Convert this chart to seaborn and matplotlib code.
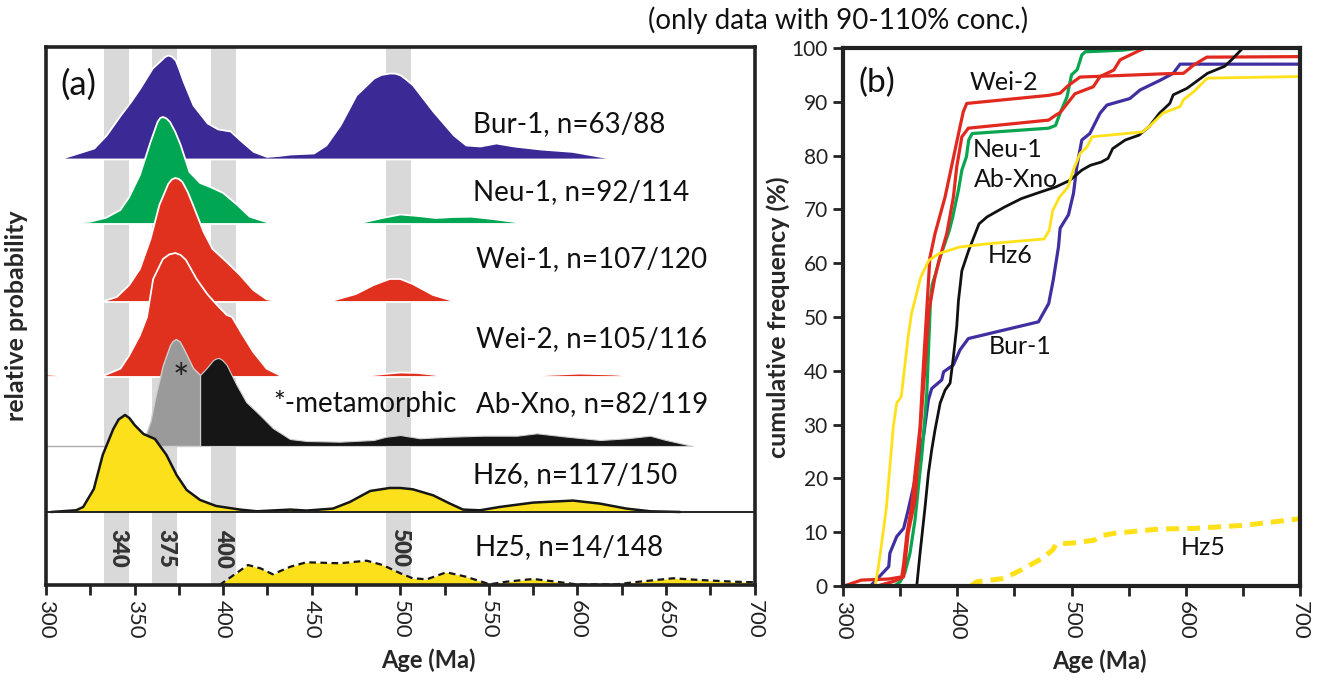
import numpy as np
import pandas as pd
import matplotlib.pyplot as plt
import seaborn as sns

sns.set_theme(style="white")
plt.rcParams['font.family'] = ['Lato', 'DejaVu Sans']

# ---------------- panel (a): probability density curves (age Ma, relative height) -------------
nan = np.nan
bur1_age = [307, 315, 327, 334, 342, 348, 353, 360, 364, 367, 369, 371, 373, 375, 377.5, 383, 391, 397,
            404, 409.5, 417, 424.5, 431, 438, 451, 458, 466, 475, 485, 489, 494, 497, 500, 503, 507,
            518.5, 530, 537, 545, 554, 564, 579, 597, 613, 623]
bur1_h = [0, 4.3, 11, 24, 44, 58, 71, 91, 97.5, 102.6, 104, 102.5, 99, 90, 77.6, 54, 36, 30,
          28, 19, 7.6, 2.6, 3.5, 5, 6, 14, 34, 64, 81, 84.5, 86, 85.8, 84, 80, 74,
          47.6, 24, 14, 13, 16, 13, 10, 7.6, 2.6, 0]

neu1_age = [304, 325, 334, 342, 347, 353, 359, 363, 364.5, 366, 368, 370, 373, 376, 381, 387, 394, 400,
            408, 415, 428, nan, 469, 480, 490, 500, 510, 520, 530, 540, 552, 566, 578]
neu1_h = [0, 2.3, 6.3, 14, 27, 49, 82, 102, 106, 107, 105.5, 102, 92, 79, 52, 41, 36, 31,
          19, 7.3, 0, nan, 0, 2, 6, 9.5, 8, 6, 7, 7.3, 5, 1.7, 0]

wei1_age = [331, 340, 347, 353, 359, 364, 369, 371, 373, 375, 377, 380, 383, 389, 394, 402, 409.5, 417,
            424.5, 433, nan, 459, 475, 485, 494, 500, 507, 518.5, 528, 540, 560]
wei1_h = [0, 5, 17, 33, 63, 97, 118, 122.5, 124, 123, 120, 110, 97, 70, 53, 40, 27, 12,
          2.7, 0, nan, 0, 8, 17, 23, 23, 18, 7, 2, 0.5, 0]

wei2_age = [300, 310, 318, 330, 334, 342, 347, 353, 357, 360.5, 366, 369.5, 373, 376, 379, 385, 391, 396,
            402, 405, 411, 417, 424.5, 432, 440, nan, 468, 485, 500, 510, 520, 529, nan, 567, 580,
            601, 620, 641]
wei2_h = [2.5, 1.5, 0, 0, 2.4, 8.3, 21.7, 41.7, 60, 98, 118, 122.5, 124, 122, 117, 98, 83, 73,
          62, 60, 42, 25, 8.4, 1.7, 0, nan, 0, 2, 4.5, 4, 2, 0, nan, 0, 1.8,
          3.4, 2.5, 0]

abx_age = [352, 356, 359, 361.5, 366, 370, 371.5, 373.3, 375.5, 377.5, 383, 387, 390.7, 394.4, 396,
           397.6, 399.5, 402, 407.6, 413, 420.7, 428, 437.7, 447, 466, 485, 492, 500, 511, 528, 547,
           566, 577, 594, 613, 628, 641, 650, 665]
abx_h = [0, 10, 25, 48, 81, 101, 105, 107, 104.5, 98, 78, 71, 78, 86, 87.5,
         88, 86, 81, 61, 44, 31, 18, 7, 5, 4.3, 6, 9.3, 11, 7.7, 9.3, 10.3,
         10.3, 12.7, 9.3, 6, 7.7, 10.3, 6, 0]
abx_meta_max = 387  # ages below this are metamorphic (grey)

hz6_age = [303, 317, 321, 327, 332, 338, 341, 344.6, 347, 350, 355, 361.5, 368, 373.7, 379.4, 387, 396,
           409.5, 419, 428, 438, 447, 462, 471.5, 483, 494, 500, 507, 518.5, 528, 535.4, 545, 556,
           575, 597.5, 612.6, 627.6, 641, 658]
hz6_h = [0, 1.7, 5, 23, 57, 83, 92.5, 97, 94, 87, 78, 73, 57, 37, 22, 12, 6,
         2.4, 0.7, 1.5, 2.4, 1.4, 3.4, 10, 21, 24, 24, 22.7, 16.7, 8.4, 2.4, 1.7, 5,
         9.4, 11.4, 8.4, 3.4, 0.7, 0]

hz5_age = [398, 406, 414, 421, 428, 438, 447, 466, 481, 490, 500, 507, 515, 526, 537, 550.5, 560, 575,
           588, 599, 622, 635, 654, 669, 688, 700]
hz5_h = [0, 10, 20, 16.7, 10.7, 18.3, 22.7, 21.7, 24.3, 20, 11.7, 6.7, 5.7, 12.7, 8.3, 0.7, 3.3, 6,
         3.3, 0.7, 0.7, 3.3, 6.7, 5, 3.3, 2.7]

ridge_labels = ["Bur-1, n=63/88", "Neu-1, n=92/114", "Wei-1, n=107/120", "Wei-2, n=105/116",
                "Ab-Xno, n=82/119", "Hz6, n=117/150", "Hz5, n=14/148"]
band_ages = [333, 360, 393, 492]
band_names = ["340", "375", "400", "500"]

# ---------------- panel (b): cumulative frequency (age Ma, %) ----------------
cdf_bur1_age = [324, 340, 341, 347, 353, 357, 363, 366, 370.4, 374.7, 377.6, 386.4, 388, 396.6, 402.4,
                409.7, 471, 480, 484, 488.6, 490, 497.3, 501.7, 504.6, 509, 516, 525, 531, 551, 560,
                577.5, 589, 595, 700]
cdf_bur1_pct = [0, 3.6, 6.1, 9.2, 10.7, 14.1, 19.7, 23.4, 27.8, 34.6, 36.7, 38.3, 39.8, 41.1, 43.9,
                46, 49.1, 52.5, 56.9, 63.1, 66.5, 69, 73, 77.9, 82.9, 84.1, 87.9, 89.4, 90.6, 92.2,
                94, 95.3, 97, 97]

cdf_neu1_age = [345, 350, 354, 358.6, 363, 366, 369.4, 373.3, 376.5, 378, 381, 384, 389, 393, 396, 401,
                404, 408, 410, 413, 480, 486, 490, 496, 500, 505, 509, 512, 545, 560]
cdf_neu1_pct = [0, 0.8, 2.4, 6.1, 12.3, 18.5, 25.3, 35.8, 53, 56, 58, 60.5, 63.6, 66.1, 68.6, 73.6,
                77.3, 79.8, 82.9, 84.1, 85.1, 85.6, 87.9, 90.9, 95, 96, 98.7, 99.3, 99.6, 100]

cdf_wei1_age = [330, 345, 353, 357, 363, 367.4, 371.8, 375, 380.5, 385, 390.8, 396.6, 399.5, 404, 409.7,
                480, 486, 490, 503, 519, 525, 537, 542.5, 560, 565]
cdf_wei1_pct = [0, 0.9, 1.7, 9.8, 16, 28.4, 40.8, 51, 57.5, 61.2, 65.5, 72.3, 77.9, 83.5, 85.1,
                86.6, 87.5, 88, 91.5, 92.8, 94.7, 95.9, 97.8, 99.6, 100]

cdf_wei2_age = [301, 316, 340, 351.4, 353, 356, 360, 363, 367.4, 370.3, 373.2, 376, 380.5, 389.3, 393.7,
                398, 402.4, 405.3, 408.3, 480, 490, 497, 507.4, 580, 598, 606.6, 618.3, 700]
cdf_wei2_pct = [0, 1.1, 1.3, 1.7, 4, 9.8, 14.7, 20.9, 29.6, 40.8, 51, 61, 65.5, 72.3, 76.7,
                81, 85.4, 88.2, 89.7, 91.2, 91.6, 93, 94.6, 95.2, 95.3, 96.8, 98.3, 98.4]

cdf_abx_age = [364.5, 367.4, 371.8, 374.7, 377.6, 380.5, 385, 389.3, 393.7, 396.6, 399.5, 401, 404, 410,
               419, 426, 441, 456, 471, 486.5, 498.5, 509, 516.5, 526, 532, 536, 547, 559, 568, 577,
               586, 589, 601, 619, 634, 640, 650]
cdf_abx_pct = [0, 6.1, 14.7, 20.9, 25.3, 29, 34, 36.4, 37.7, 42.6, 48.2, 53, 58.6, 62.4,
               67.3, 68.6, 70.4, 72, 73.1, 74.2, 75.4, 77.3, 78.2, 78.8, 79.5, 81.3, 82.9, 83.8, 85.4, 87.9,
               89.7, 91.3, 92.5, 95.3, 96.6, 97.8, 100]

cdf_hz6_age = [328, 331, 335, 338, 341, 344, 347, 351, 354, 357, 360, 363, 368, 375, 384, 402, 426, 476,
               480.5, 483.5, 489.5, 497, 501.5, 507.5, 513.5, 518, 562, 568, 580, 595, 598, 607, 616,
               619, 700]
cdf_hz6_pct = [0, 3.6, 9.8, 14.7, 22.2, 29.6, 34, 35.2, 40.8, 46.4, 50.7, 53.2, 57.4, 60.5, 61.8, 63,
               63.6, 64.5, 66.1, 69.8, 72.3, 74.2, 77.3, 80.4, 81.6, 83.5, 84.4, 85.4, 87.9, 89.1, 90.4,
               91.9, 93.8, 94.4, 94.7]

cdf_hz5_age = [412, 417, 441, 456, 474, 483.5, 486.5, 501.5, 519.5, 527, 537.6, 577, 607, 652, 700]
cdf_hz5_pct = [0, 0.8, 1.4, 3, 5.1, 6.7, 7.8, 8, 8.5, 9.4, 9.8, 10.6, 10.7, 11.3, 12.5]

cdf_names = ["Bur-1", "Neu-1", "Wei-1", "Wei-2", "Ab-Xno", "Hz6", "Hz5"]

# ---------------- styling ----------------
purple, green, red = "#3b2a96", "#00a651", "#e0301e"
grey, black, yellow = "#9a9a9a", "#161616", "#fbe01b"
band_col = "#d9d9d9"

fig = plt.figure(figsize=(13.22, 6.81), dpi=100)
ax_a = fig.add_axes([0.0348, 0.141, 0.536, 0.790])
ax_b = fig.add_axes([0.6377, 0.1395, 0.3457, 0.790])

# ---- panel (a)
for lo, name in zip(band_ages, band_names):
    ax_a.axvspan(lo, lo + 14, color=band_col, lw=0, zorder=0)
    ax_a.text(lo + 7.5, 37, name, rotation=-90, ha="center", va="center", fontsize=16,
              fontweight="heavy", color="#333333", zorder=1)

bases = [426, 361, 283, 208, 139, 73, 0]
simple = [(bur1_age, bur1_h, purple), (neu1_age, neu1_h, green),
          (wei1_age, wei1_h, red), (wei2_age, wei2_h, red)]
z = 2
for (age, h, col), b in zip(simple, bases[:4]):
    age = np.array(age, float)
    top = b + np.array(h, float)
    ax_a.fill_between(age, b, top, facecolor=col, edgecolor="white", lw=1.3, zorder=z)
    z += 1

# Ab-Xno, grey metamorphic part + black rest
age = np.array(abx_age, float)
top = bases[4] + np.array(abx_h, float)
ax_a.plot([300, 352], [bases[4], bases[4]], color="#aaaaaa", lw=1, zorder=z)
ax_a.fill_between(age, bases[4], top, where=age <= abx_meta_max, facecolor=grey,
                  edgecolor="#cfcfcf", lw=1, zorder=z)
ax_a.fill_between(age, bases[4], top, where=age >= abx_meta_max, facecolor=black,
                  edgecolor="#d0d0d0", lw=0.8, zorder=z + 1)
z += 2

# Hz6
age = np.array(hz6_age, float)
top = bases[5] + np.array(hz6_h, float)
ax_a.fill_between(age, bases[5], top, facecolor=yellow, lw=0, zorder=z)
sns.lineplot(x=age, y=top, ax=ax_a, color=black, lw=1.8, sort=False, zorder=z + 1)
ax_a.axhline(bases[5], color="#222222", lw=1.4, zorder=z + 1)
z += 2

# Hz5
age = np.array(hz5_age, float)
top = np.array(hz5_h, float)
ax_a.fill_between(age, 0, top, facecolor=yellow, lw=0, zorder=z)
sns.lineplot(x=age, y=top, ax=ax_a, color=black, lw=1.6, sort=False, zorder=z + 1,
             linestyle=(0, (3, 2)))

label_x = [541, 541, 542.6, 542.6, 542.6, 541, 542]
label_y = [453, 385, 318, 238, 173, 102, 30]
for s, x, y in zip(ridge_labels, label_x, label_y):
    ax_a.text(x, y, s, fontsize=20, ha="left", va="baseline", color="#111111", zorder=20)
ax_a.text(428.6, 173, "*-metamorphic", fontsize=20, ha="left", va="baseline", color="#111111", zorder=20)
ax_a.text(376, 204, "*", fontsize=28, ha="center", va="center", color="#222222", zorder=20)
ax_a.text(308, 490, "(a)", fontsize=25, ha="left", va="baseline", color="#111111", zorder=20)

ax_a.set_xlim(300, 700)
ax_a.set_ylim(0, 538)
ticks_a = np.arange(300, 701, 25)
ax_a.set_xticks(ticks_a)
ax_a.set_xticklabels([str(t) if t % 50 == 0 else "" for t in ticks_a], rotation=-90)
ax_a.set_yticks([])
ax_a.tick_params(axis="x", direction="out", length=7, width=2, labelsize=16, pad=4,
                 bottom=True, color="#222222", labelcolor="#222222")
ax_a.set_xlabel("Age (Ma)", fontsize=17, fontweight="bold")
ax_a.xaxis.set_label_coords(0.54, -0.118)
ax_a.set_ylabel("relative probability", fontsize=18, fontweight="bold")
ax_a.yaxis.set_label_coords(-0.026, 0.5)
for sp in ax_a.spines.values():
    sp.set_linewidth(2.6)
    sp.set_color("#222222")
    sp.set_zorder(30)

# ---- panel (b)
cdf_ages = [cdf_bur1_age, cdf_neu1_age, cdf_wei1_age, cdf_wei2_age, cdf_abx_age, cdf_hz6_age, cdf_hz5_age]
cdf_pcts = [cdf_bur1_pct, cdf_neu1_pct, cdf_wei1_pct, cdf_wei2_pct, cdf_abx_pct, cdf_hz6_pct, cdf_hz5_pct]
cdf_cols = ["#3f2fa0", "#0aa64f", "#e2291f", "#e2291f", "#111111", "#ffe11a", "#ffe11a"]
cdf_lw = [2.3, 2.3, 2.3, 2.3, 2.0, 2.0, 3.6]
rows = []
for name, a, p in zip(cdf_names, cdf_ages, cdf_pcts):
    rows.append(pd.DataFrame({"sample": name, "age": a, "pct": p}))
cdf = pd.concat(rows, ignore_index=True)

for name, col, lw in zip(cdf_names, cdf_cols, cdf_lw):
    d = cdf[cdf["sample"] == name]
    ls = (0, (2.6, 1.6)) if name == "Hz5" else "-"
    sns.lineplot(data=d, x="age", y="pct", ax=ax_b, color=col, lw=lw, sort=False,
                 estimator=None, linestyle=ls, zorder=3)

b_labels = ["Wei-2", "Neu-1", "Ab-Xno", "Hz6", "Bur-1", "Hz5"]
b_lx = [440.9, 444.4, 451.4, 446.2, 454.9, 615.1]
b_ly = [93.5, 81.2, 75.5, 61.5, 44.6, 7.1]
for s, x, y in zip(b_labels, b_lx, b_ly):
    ax_b.text(x, y, s, fontsize=18, ha="center", va="center", color="#111111", zorder=10)
ax_b.text(329.8, 93.5, "(b)", fontsize=24, ha="center", va="center", color="#111111", zorder=10)

ax_b.set_xlim(300, 700)
ax_b.set_ylim(0, 100)
ticks_b = np.arange(300, 701, 50)
ax_b.set_xticks(ticks_b)
ax_b.set_xticklabels([str(t) if t % 100 == 0 else "" for t in ticks_b], rotation=-90)
ax_b.set_yticks(np.arange(0, 101, 10))
ax_b.tick_params(axis="both", direction="out", length=7, width=2, labelsize=15, pad=4,
                 bottom=True, left=True, color="#222222", labelcolor="#222222")
ax_b.tick_params(axis="x", labelsize=16)
ax_b.set_xlabel("Age (Ma)", fontsize=17, fontweight="bold")
ax_b.xaxis.set_label_coords(0.56, -0.118)
ax_b.set_ylabel("cumulative frequency (%)", fontsize=18, fontweight="bold")
ax_b.yaxis.set_label_coords(-0.115, 0.5)
for sp in ax_b.spines.values():
    sp.set_linewidth(3)
    sp.set_color("#222222")
    sp.set_zorder(30)

fig.text(838 / 1322, 1 - 20 / 681, "(only data with 90-110% conc.)", fontsize=20,
         ha="center", va="center", color="#111111")

fig.savefig("out.png", dpi=100)
